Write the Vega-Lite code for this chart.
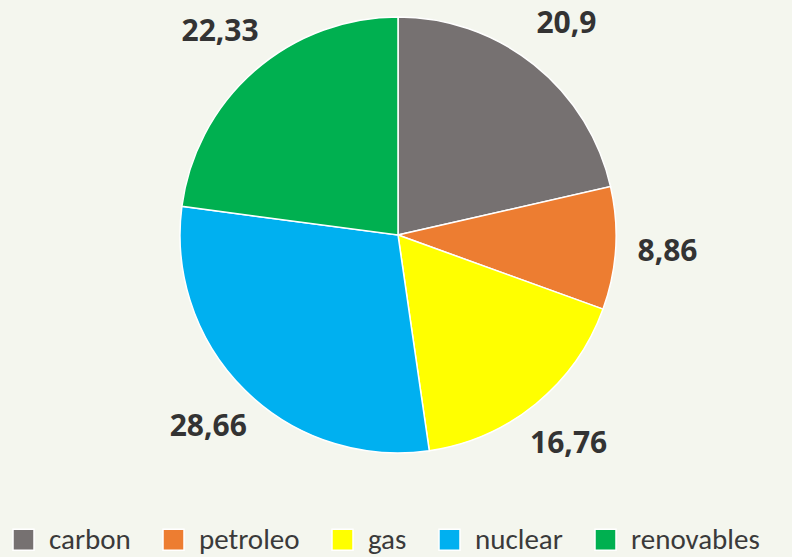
{
  "$schema": "https://vega.github.io/schema/vega-lite/v6.json",
  "width": 792,
  "height": 470,
  "autosize": {"type": "none"},
  "padding": {"left": 2, "top": 0, "right": 0, "bottom": 87},
  "background": "#f4f6ee",
  "config": {"view": {"stroke": null}},
  "data": {
    "values": [
      {"fuente": "carbon", "valor": 20.9, "etiqueta": "20,9", "orden": 1},
      {"fuente": "petroleo", "valor": 8.86, "etiqueta": "8,86", "orden": 2},
      {"fuente": "gas", "valor": 16.76, "etiqueta": "16,76", "orden": 3},
      {"fuente": "nuclear", "valor": 28.66, "etiqueta": "28,66", "orden": 4},
      {"fuente": "renovables", "valor": 22.33, "etiqueta": "22,33", "orden": 5}
    ]
  },
  "encoding": {
    "theta": {"field": "valor", "type": "quantitative", "stack": true},
    "order": {"field": "orden", "type": "quantitative"}
  },
  "layer": [
    {
      "mark": {"type": "arc", "outerRadius": 218, "stroke": "white", "strokeWidth": 1.5},
      "encoding": {
        "color": {
          "field": "fuente",
          "type": "nominal",
          "sort": ["carbon", "petroleo", "gas", "nuclear", "renovables"],
          "scale": {
            "domain": ["carbon", "petroleo", "gas", "nuclear", "renovables"],
            "range": ["#767171", "#ED7D31", "#FFFF00", "#00B0F0", "#00B050"]
          },
          "legend": {
            "title": null,
            "orient": "none",
            "direction": "horizontal",
            "columns": 5,
            "legendX": 7,
            "legendY": 525,
            "symbolType": "square",
            "symbolSize": 441,
            "symbolStrokeColor": "white",
            "symbolStrokeWidth": 1.5,
            "symbolOpacity": 1,
            "labelFont": "Carlito, Lato",
            "labelFontSize": 29,
            "labelColor": "#3a3a3a",
            "labelOffset": 11,
            "columnPadding": 28,
            "labelLimit": 300
          }
        }
      }
    },
    {
      "mark": {
        "type": "text",
        "radius": 270,
        "font": "Open Sans",
        "fontWeight": "bold",
        "fontSize": 30,
        "fill": "#333333"
      },
      "encoding": {"text": {"field": "etiqueta", "type": "nominal"}}
    }
  ]
}
